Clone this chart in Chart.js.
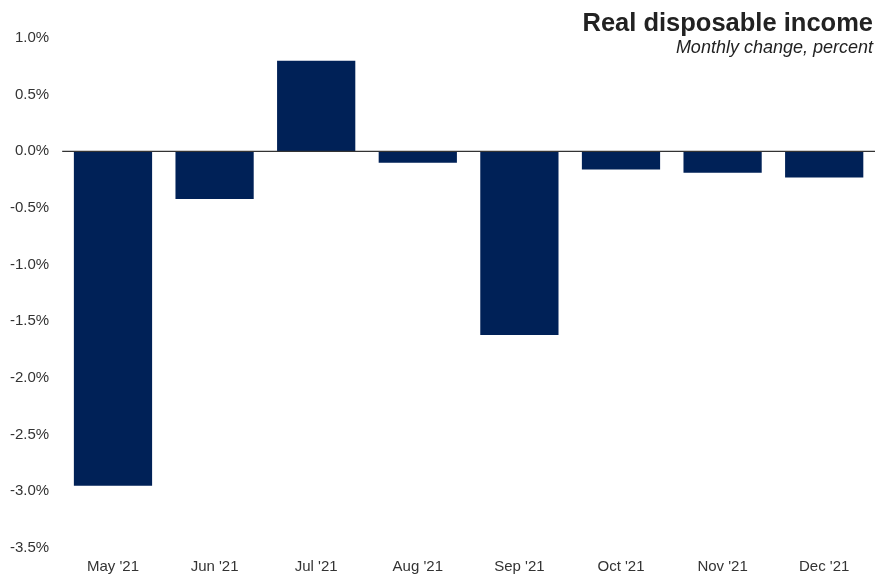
<!DOCTYPE html>
<html>
<head>
<meta charset="utf-8">
<script src="https://cdn.jsdelivr.net/npm/chart.js@4"></script>
<style>
  html, body { margin: 0; padding: 0; background: #fff; }
  #wrap { width: 877px; height: 574px; }
</style>
</head>
<body>
<div id="wrap"><canvas id="grafico"></canvas></div>
<script>
// ====== DATA ======
const meses = ["May '21", "Jun '21", "Jul '21", "Aug '21", "Sep '21", "Oct '21", "Nov '21", "Dec '21"];
const variacao = [-2.95, -0.42, 0.80, -0.10, -1.62, -0.16, -0.19, -0.23];
const tituloTexto = 'Real disposable income';
const subtituloTexto = 'Monthly change, percent';

// Titulo no canto superior direito
const tituloPlugin = {
  id: 'tituloCanto',
  afterDraw(chart) {
    const c = chart.ctx;
    c.save();
    c.textAlign = 'right';
    c.textBaseline = 'alphabetic';
    c.fillStyle = '#222';
    c.font = 'bold 25.5px "Liberation Sans", Arial, sans-serif';
    c.fillText(tituloTexto, 873, 31);
    c.font = 'italic 18px "Liberation Sans", Arial, sans-serif';
    c.fillText(subtituloTexto, 873, 53);
    c.restore();
  }
};

// Linha do zero
const zeroPlugin = {
  id: 'linhaZero',
  afterDatasetsDraw(chart) {
    const y = chart.scales.y.getPixelForValue(0);
    const c = chart.ctx;
    c.save();
    c.strokeStyle = '#333';
    c.lineWidth = 1.2;
    c.beginPath();
    c.moveTo(chart.chartArea.left, y);
    c.lineTo(chart.chartArea.right, y);
    c.stroke();
    c.restore();
  }
};

const fonte = '"Liberation Sans", Arial, sans-serif';

new Chart(document.getElementById('grafico'), {
  type: 'bar',
  data: {
    labels: meses,
    datasets: [{
      data: variacao,
      backgroundColor: '#002157',
      borderWidth: 0,
      barPercentage: 0.77,
      categoryPercentage: 1.0
    }]
  },
  options: {
    responsive: true,
    maintainAspectRatio: false,
    animation: false,
    layout: { padding: { top: 38, right: 2, left: -3, bottom: -12 } },
    plugins: { legend: { display: false }, tooltip: { enabled: false } },
    scales: {
      x: {
        grid: { display: false, drawTicks: false },
        border: { display: false },
        ticks: { color: '#333', font: { family: fonte, size: 15 }, padding: 10 }
      },
      y: {
        min: -3.5,
        max: 1.0,
        grid: { display: false, drawTicks: false },
        border: { display: false },
        ticks: {
          stepSize: 0.5,
          color: '#333',
          padding: 13,
          font: { family: fonte, size: 15 },
          callback: v => v.toFixed(1) + '%'
        }
      }
    }
  },
  plugins: [tituloPlugin, zeroPlugin]
});
</script>
</body>
</html>
